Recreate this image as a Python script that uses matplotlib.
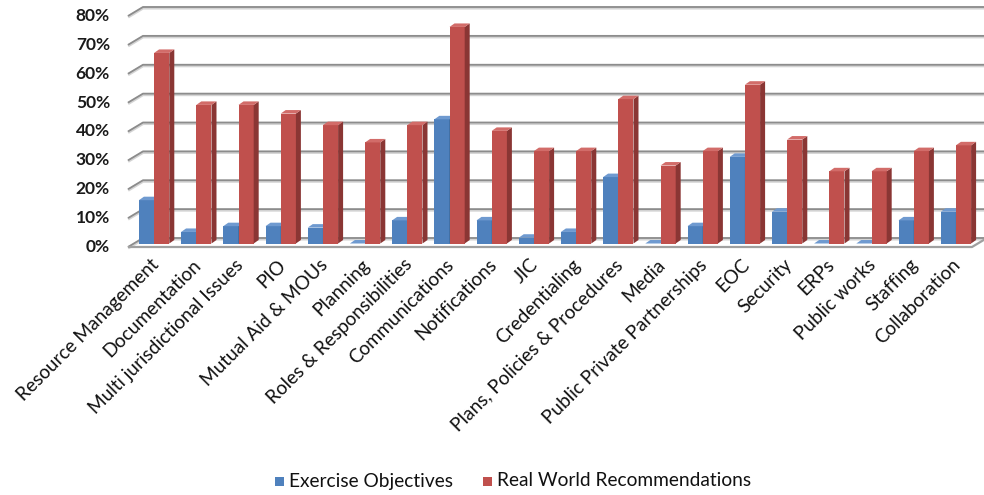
import matplotlib.pyplot as plt
from matplotlib.patches import Polygon, Rectangle

categories = ["Resource Management", "Documentation", "Multi jurisdictional Issues", "PIO",
              "Mutual Aid & MOUs", "Planning", "Roles & Responsibilities", "Communications",
              "Notifications", "JIC", "Credentialing", "Plans, Policies & Procedures", "Media",
              "Public Private Partnerships", "EOC", "Security", "ERPs", "Public works",
              "Staffing", "Collaboration"]
exercise = [15, 4, 6, 6, 5.5, 0, 8, 43, 8, 2, 4, 23, 0, 6, 30, 11, 0, 0, 8, 11]
real_world = [66, 48, 48, 45, 41, 35, 41, 75, 39, 32, 32, 50, 27, 32, 55, 36, 25, 25, 32, 34]
yticks = [0, 10, 20, 30, 40, 50, 60, 70, 80]

series = [
    ("Exercise Objectives", exercise, "#4f81bd", "#36608f", "#6f9ad0"),
    ("Real World Recommendations", real_world, "#c0504d", "#8a3634", "#d26c69"),
]

W, H = 984, 495
fig = plt.figure(figsize=(W / 100, H / 100), dpi=100)
ax = fig.add_axes([128 / W, 248 / H, 844 / W, 231 / H])
ax.set_xlim(-0.5, 19.5)
ax.set_ylim(0, 80)
ax.axis("off")

# pixel -> data conversion (front plane)
px_x = 20 / 844
px_y = 80 / 231

# back wall offset and bar depth
wall_dx, wall_dy = 15 * px_x, 9 * px_y
bar_dx, bar_dy = 5 * px_x, 3.5 * px_y
mid_dx, mid_dy = 5 * px_x, 3.5 * px_y

grid_kw = dict(clip_on=False, solid_capstyle="butt")
for v in yticks:
    xs = [-0.5, -0.5 + wall_dx, 19.5 + wall_dx]
    ys = [v, v + wall_dy, v + wall_dy]
    ax.plot(xs, [y - 0.35 for y in ys], color="#d4d4d4", lw=2.2, zorder=1, **grid_kw)
    ax.plot(xs, ys, color="#8c8c8c", lw=1.3, zorder=1.1, **grid_kw)

# floor edges
ax.plot([-0.5, 19.5, 19.5 + wall_dx], [0, 0, wall_dy], color="#a0a0a0", lw=1.6,
        zorder=1.2, **grid_kw)

bw = 0.36
for si, (name, vals, front, side, top) in enumerate(series):
    for i, v in enumerate(vals):
        x0 = i - bw + si * bw + mid_dx
        y0 = mid_dy
        y1 = v + mid_dy
        z = 3 + i * 0.01 + si * 0.001
        ax.add_patch(Rectangle((x0, y0), bw, v, facecolor=front, edgecolor="none",
                               zorder=z, clip_on=False))
        ax.add_patch(Polygon([(x0 + bw, y0), (x0 + bw + bar_dx, y0 + bar_dy),
                              (x0 + bw + bar_dx, y1 + bar_dy), (x0 + bw, y1)],
                             closed=True, facecolor=side, edgecolor="none",
                             zorder=z, clip_on=False))
        ax.add_patch(Polygon([(x0, y1), (x0 + bw, y1), (x0 + bw + bar_dx, y1 + bar_dy),
                              (x0 + bar_dx, y1 + bar_dy)],
                             closed=True, facecolor=top, edgecolor="none",
                             zorder=z, clip_on=False))

font = ["Lato", "DejaVu Sans"]
for v in yticks:
    ax.text(-0.5 - 18 * px_x, v, f"{v}%", ha="right", va="center", fontsize=12.5,
            fontweight="bold", color="#1a1a1a", family=font)

for i, c in enumerate(categories):
    ax.text(i + 0.02, -9 * px_y, c, rotation=45, rotation_mode="anchor", ha="right",
            va="top", fontsize=13.7, color="#111111", family=font)

# legend
legend_y = (H - 481) / H
for name, x_sq, col in [("Exercise Objectives", 275, "#4f81bd"),
                        ("Real World Recommendations", 483, "#c0504d")]:
    fig.patches.append(Rectangle((x_sq / W, legend_y - 5 / H), 9 / W, 9 / H,
                                 facecolor=col, edgecolor="none",
                                 transform=fig.transFigure))
    fig.text((x_sq + 14) / W, legend_y, name, ha="left", va="center", fontsize=13.8,
             color="#111111", family=font)

fig.savefig("out.png", dpi=100, facecolor="white")
